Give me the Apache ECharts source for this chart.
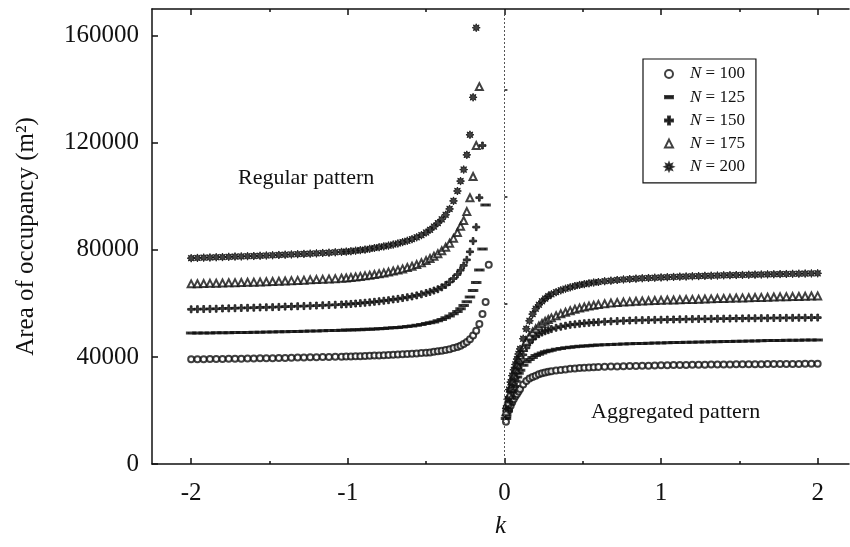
<!DOCTYPE html>
<html>
<head>
<meta charset="utf-8">
<script src="https://cdn.jsdelivr.net/npm/echarts@6/dist/echarts.min.js"></script>
<style>
html, body { margin: 0; padding: 0; background: #fff; }
#chart { width: 850px; height: 547px; }
</style>
</head>
<body>
<div id="chart"></div>
<script>
// k values, regular pattern side (k < 0)
const kLeft = [-2.00, -1.96, -1.92, -1.88, -1.84, -1.80, -1.76, -1.72, -1.68, -1.64, -1.60, -1.56, -1.52,
  -1.48, -1.44, -1.40, -1.36, -1.32, -1.28, -1.24, -1.20, -1.16, -1.12, -1.08, -1.04,
  -1.01, -0.98, -0.95, -0.92, -0.89, -0.86, -0.83, -0.80, -0.77, -0.74, -0.71, -0.68, -0.65, -0.62, -0.59, -0.56, -0.53,
  -0.50, -0.475, -0.45, -0.425, -0.40, -0.375, -0.35, -0.325,
  -0.30, -0.28, -0.26, -0.24, -0.22, -0.20, -0.18, -0.16, -0.14, -0.12, -0.10];

// k values, aggregated pattern side (k > 0)
const kRight = [0.01, 0.02, 0.03, 0.04, 0.05, 0.06, 0.07, 0.08, 0.09, 0.10,
  0.12, 0.14, 0.16, 0.18, 0.20, 0.22, 0.24, 0.26, 0.28, 0.30,
  0.33, 0.36, 0.39, 0.42, 0.45, 0.48, 0.51, 0.54, 0.57, 0.60,
  0.64, 0.68, 0.72, 0.76, 0.80, 0.84, 0.88, 0.92, 0.96, 1.00,
  1.04, 1.08, 1.12, 1.16, 1.20, 1.24, 1.28, 1.32, 1.36, 1.40,
  1.44, 1.48, 1.52, 1.56, 1.60, 1.64, 1.68, 1.72, 1.76, 1.80,
  1.84, 1.88, 1.92, 1.96, 2.00];

// area of occupancy (m2), regular side, same order as kLeft
const regular100 = [39100, 39100, 39150, 39200, 39200, 39250, 39300, 39300, 39350, 39400, 39450, 39500, 39500,
  39550, 39600, 39650, 39700, 39750, 39800, 39850, 39900, 39950, 40000, 40050, 40100,
  40150, 40200, 40250, 40300, 40350, 40400, 40500, 40550, 40650, 40700, 40800, 40900, 41000, 41100, 41200, 41300, 41450,
  41600, 41700, 41900, 42100, 42300, 42600, 42900, 43300,
  43700, 44200, 44800, 45600, 46600, 48000, 49800, 52300, 56000, 60500, 74400];
const regular125 = [48900, 48900, 48950, 48950, 49000, 49000, 49050, 49100, 49100, 49150, 49200, 49250, 49300,
  49350, 49400, 49450, 49500, 49550, 49600, 49650, 49700, 49800, 49850, 49900, 50000,
  50050, 50100, 50150, 50200, 50300, 50350, 50450, 50550, 50650, 50800, 50900, 51000, 51200, 51400, 51600, 51800, 52100,
  52500, 52800, 53100, 53500, 54000, 54600, 55300, 56100,
  57000, 58000, 59200, 60600, 62400, 64800, 67800, 72500, 80300, 96800];
const regular150 = [57800, 57850, 57900, 57950, 58000, 58100, 58150, 58200, 58300, 58350, 58400, 58500, 58550,
  58600, 58700, 58800, 58850, 58950, 59000, 59100, 59200, 59300, 59400, 59500, 59600,
  59700, 59800, 59950, 60100, 60250, 60400, 60600, 60800, 61000, 61200, 61500, 61700, 62000, 62300, 62600, 63000, 63400,
  63900, 64300, 64800, 65300, 66000, 66900, 68000, 69300,
  70800, 72400, 74200, 76300, 79300, 83300, 88500, 99500, 119000];
const regular175 = [67300, 67350, 67400, 67500, 67550, 67600, 67700, 67750, 67800, 67900, 67950, 68000, 68100,
  68200, 68300, 68400, 68500, 68600, 68700, 68800, 68900, 69000, 69100, 69250, 69400,
  69500, 69700, 69900, 70100, 70300, 70500, 70800, 71100, 71400, 71700, 72100, 72500, 72900, 73400, 73900, 74500, 75200,
  76000, 76800, 77600, 78600, 79700, 81000, 82500, 84300,
  86500, 88800, 91000, 94300, 99500, 107400, 119000, 141000];
const regular200 = [76900, 77000, 77100, 77150, 77250, 77300, 77400, 77500, 77550, 77650, 77700, 77800, 77900,
  78000, 78100, 78200, 78300, 78400, 78500, 78600, 78700, 78850, 78950, 79100, 79250,
  79350, 79500, 79700, 79900, 80100, 80400, 80700, 81000, 81300, 81600, 82000, 82400, 82900, 83400, 84000, 84700, 85500,
  86500, 87500, 88700, 90000, 91400, 93100, 95300, 98300,
  102000, 105700, 110000, 115500, 123000, 137000, 163000];

// area of occupancy (m2), aggregated side, same order as kRight
const aggregated100 = [15800, 18200, 20200, 21800, 23100, 24300, 25300, 26200, 27100, 28000,
  29700, 31000, 31900, 32500, 33000, 33500, 33900, 34200, 34450, 34650,
  34900, 35150, 35350, 35550, 35700, 35850, 35950, 36050, 36150, 36200,
  36300, 36400, 36450, 36550, 36600, 36650, 36700, 36750, 36800, 36850,
  36900, 36950, 37000, 37000, 37050, 37100, 37100, 37150, 37150, 37200,
  37200, 37250, 37250, 37300, 37300, 37300, 37350, 37350, 37350, 37400,
  37400, 37400, 37450, 37450, 37450];
const aggregated125 = [17000, 19800, 22400, 24800, 27000, 29000, 30900, 32500, 33900, 35000,
  36900, 38200, 39000, 39800, 40500, 41000, 41500, 41900, 42200, 42500,
  42850, 43150, 43400, 43600, 43800, 43950, 44100, 44200, 44350, 44450,
  44550, 44650, 44750, 44850, 44900, 45000, 45050, 45100, 45200, 45250,
  45300, 45350, 45400, 45450, 45500, 45550, 45600, 45650, 45700, 45750,
  45800, 45850, 45900, 45950, 46000, 46050, 46100, 46100, 46150, 46200,
  46200, 46250, 46300, 46300, 46350];
const aggregated150 = [18200, 20800, 23200, 25500, 27800, 29900, 32000, 34000, 35900, 37600,
  40800, 43400, 45300, 46700, 47700, 48500, 49100, 49600, 50000, 50400,
  50900, 51300, 51650, 52000, 52200, 52400, 52600, 52750, 52900, 53000,
  53150, 53300, 53400, 53500, 53600, 53700, 53750, 53800, 53850, 53900,
  53950, 54000, 54050, 54100, 54150, 54200, 54200, 54250, 54300, 54300,
  54350, 54400, 54400, 54450, 54450, 54500, 54500, 54550, 54550, 54600,
  54600, 54650, 54650, 54700, 54700];
const aggregated175 = [19500, 22800, 25800, 28500, 31000, 33200, 35300, 37200, 39000, 40600,
  43500, 45900, 47800, 49300, 50500, 51600, 52500, 53300, 54000, 54600,
  55400, 56100, 56700, 57300, 57800, 58250, 58650, 59000, 59300, 59600,
  59900, 60150, 60350, 60500, 60650, 60800, 60900, 61000, 61100, 61200,
  61250, 61300, 61400, 61450, 61500, 61600, 61650, 61700, 61800, 61850,
  61900, 62000, 62050, 62100, 62200, 62250, 62300, 62400, 62450, 62500,
  62550, 62600, 62700, 62750, 62800];
const aggregated200 = [20800, 24200, 27800, 30600, 33000, 35200, 37200, 39200, 41100, 43000,
  46800, 50500, 53500, 56000, 58000, 59500, 60800, 61800, 62700, 63400,
  64200, 64900, 65500, 66000, 66500, 66900, 67200, 67500, 67800, 68000,
  68300, 68500, 68750, 68950, 69100, 69250, 69400, 69500, 69600, 69700,
  69800, 69900, 70000, 70050, 70150, 70200, 70300, 70350, 70400, 70500,
  70550, 70600, 70650, 70700, 70750, 70800, 70850, 70900, 70950, 71000,
  71050, 71100, 71150, 71200, 71250];

const seriesNames = ['N = 100', 'N = 125', 'N = 150', 'N = 175', 'N = 200'];
const xTickValues = [-2, -1, 0, 1, 2];
const xMinorTickValues = [-1.5, -0.5, 0.5, 1.5];
const yTickValues = [0, 40000, 80000, 120000, 160000];
const yMinorTickValues = [20000, 60000, 100000, 140000];

const serif = 'Liberation Serif';
const ink = '#111';
const plusPath = 'path://M3,0H5V3H8V5H5V8H3V5H0V3H3Z';
const starPath = 'path://M20,10L15.08,12.1L17.07,17.07L12.1,15.08L10,20L7.9,15.08L2.93,17.07L4.92,12.1L0,10L4.92,7.9L2.93,2.93L7.9,4.92L10,0L12.1,4.92L17.07,2.93L15.08,7.9Z';
const dashPath = 'path://M0,0H7V2H0Z';

const markerStyles = [
  { symbol: 'emptyCircle', symbolSize: 6, icon: 'emptyCircle' },
  { symbol: 'rect', symbolSize: [7, 2], icon: dashPath },
  { symbol: plusPath, symbolSize: 7, icon: plusPath },
  { symbol: 'emptyTriangle', symbolSize: 7, icon: 'emptyTriangle' },
  { symbol: starPath, symbolSize: 8, icon: starPath }
];

const regularSets = [regular100, regular125, regular150, regular175, regular200];
const aggregatedSets = [aggregated100, aggregated125, aggregated150, aggregated175, aggregated200];

function pairs(ks, vals) {
  return vals.map((v, i) => [ks[i], v]);
}

const series = seriesNames.map((name, i) => {
  const s = {
    name: name,
    type: 'scatter',
    symbol: markerStyles[i].symbol,
    symbolSize: markerStyles[i].symbolSize,
    itemStyle: { color: ink, borderColor: ink, borderWidth: 1 },
    data: pairs(kLeft, regularSets[i]).concat(pairs(kRight, aggregatedSets[i])),
    silent: true
  };
  if (i === 0) {
    s.markLine = {
      silent: true,
      symbol: ['none', 'none'],
      label: { show: false },
      lineStyle: { color: '#555', width: 1, type: [2, 2] },
      data: [{ xAxis: 0 }]
    };
  }
  return s;
});

const xMin = -2.25, xMax = 2.2, yMin = 0, yMax = 170000;

function tickAxis(position, values, len, withLine) {
  return {
    type: 'value', min: xMin, max: xMax, position: position,
    axisLine: { show: withLine, onZero: false, lineStyle: { color: ink, width: 1.5 } },
    axisTick: { show: true, inside: true, length: len, customValues: values, lineStyle: { color: ink, width: 1.5 } },
    axisLabel: { show: false },
    splitLine: { show: false }
  };
}

const xMain = tickAxis('bottom', xTickValues, 6, true);
xMain.axisLabel = {
  show: true, customValues: xTickValues, margin: 17,
  fontFamily: serif, fontSize: 25, color: ink
};
xMain.name = 'k';
xMain.nameLocation = 'middle';
xMain.nameGap = 50;
xMain.nameTextStyle = { fontFamily: serif, fontStyle: 'italic', fontSize: 25, color: ink };

const yMain = {
  type: 'value', min: yMin, max: yMax, position: 'left',
  axisLine: { show: true, onZero: false, lineStyle: { color: ink, width: 1.5 } },
  axisTick: { show: true, inside: true, length: 6, customValues: yTickValues, lineStyle: { color: ink, width: 1.5 } },
  axisLabel: {
    show: true, customValues: yTickValues, margin: 13,
    fontFamily: serif, fontSize: 25, color: ink,
    formatter: v => String(v)
  },
  splitLine: { show: false },
  name: 'Area of occupancy (m²)',
  nameLocation: 'middle',
  nameGap: 113,
  nameTextStyle: { fontFamily: serif, fontSize: 25, color: ink }
};
const yMinor = {
  type: 'value', min: yMin, max: yMax, position: 'left',
  axisLine: { show: false },
  axisTick: { show: true, inside: true, length: 3, customValues: yMinorTickValues, lineStyle: { color: ink, width: 1.5 } },
  axisLabel: { show: false },
  splitLine: { show: false }
};

const chart = echarts.init(document.getElementById('chart'), null, { renderer: 'canvas' });
chart.setOption({
  backgroundColor: '#fff',
  animation: false,
  grid: { left: 152, right: 1, top: 9, bottom: 83, containLabel: false, outerBoundsMode: 'none' },
  xAxis: [
    xMain,
    tickAxis('bottom', xMinorTickValues, 3, false),
    tickAxis('top', xTickValues, 6, true),
    tickAxis('top', xMinorTickValues, 3, false)
  ],
  yAxis: [yMain, yMinor],
  legend: {
    orient: 'vertical',
    left: 643,
    top: 59,
    padding: [6, 11, 7, 21],
    itemGap: 5.2,
    itemWidth: 8,
    itemHeight: 8,
    selectedMode: false,
    borderColor: ink,
    borderWidth: 1.2,
    backgroundColor: '#fff',
    data: seriesNames.map((n, i) => ({ name: n, icon: markerStyles[i].icon })),
    formatter: name => '{g| }{i|N}' + name.slice(1),
    textStyle: {
      fontFamily: serif, fontSize: 17, color: ink, lineHeight: 18,
      rich: {
        g: { width: 12, fontSize: 17, lineHeight: 18 },
        i: { fontFamily: serif, fontStyle: 'italic', fontSize: 17, lineHeight: 18, color: ink }
      }
    }
  },
  graphic: [
    { type: 'text', left: 238, top: 167, silent: true,
      style: { text: 'Regular pattern', font: '22px "Liberation Serif"', fill: ink } },
    { type: 'text', left: 591, top: 401, silent: true,
      style: { text: 'Aggregated pattern', font: '22px "Liberation Serif"', fill: ink } }
  ],
  series: series
});
</script>
</body>
</html>
